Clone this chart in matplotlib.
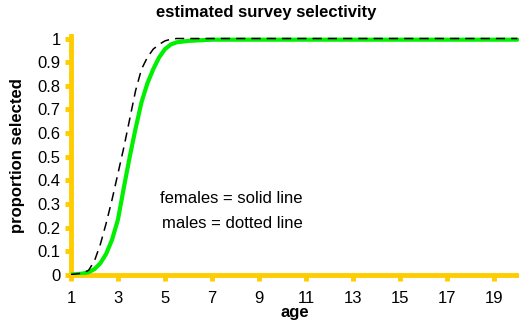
import numpy as np
import matplotlib
matplotlib.use('Agg')
from matplotlib import pyplot as plt

plt.rcParams['font.family'] = ['Liberation Sans', 'DejaVu Sans']

# ages: quarter-year steps through the rise, whole years after
age = [1, 1.5, 1.75, 2, 2.25, 2.5, 2.75, 3, 3.25, 3.5, 3.75, 4, 4.25, 4.5, 4.75, 5, 5.25, 5.5,
       6, 7, 8, 9, 10, 11, 12, 13, 14, 15, 16, 17, 18, 19, 20]
females = [0.002, 0.006, 0.012, 0.025, 0.05, 0.09, 0.15, 0.235, 0.37, 0.50, 0.62, 0.73, 0.81,
           0.87, 0.92, 0.955, 0.975, 0.984,
           0.99, 0.995, 0.995, 0.995, 0.995, 0.995, 0.995, 0.995, 0.995, 0.995, 0.995, 0.995,
           0.995, 0.995, 0.995]
males = [0.002, 0.008, 0.02, 0.06, 0.13, 0.22, 0.32, 0.43, 0.54, 0.66, 0.78, 0.87, 0.92,
         0.955, 0.975, 0.99, 0.997, 1.0,
         1.0, 1.0, 1.0, 1.0, 1.0, 1.0, 1.0, 1.0, 1.0, 1.0, 1.0, 1.0, 1.0, 1.0, 1.0]
xticks = list(range(1, 21, 2))
yticks = [0, 0.1, 0.2, 0.3, 0.4, 0.5, 0.6, 0.7, 0.8, 0.9, 1]
ytick_labels = ['0', '0.1', '0.2', '0.3', '0.4', '0.5', '0.6', '0.7', '0.8', '0.9', '1']

gold = '#FFCC00'

fig = plt.figure(figsize=(5.19, 3.25), dpi=100)
ax = fig.add_axes([0.1368, 0.1538, 0.8632, 0.735])

ax.plot(age, females, color='#00F000', lw=3.0, solid_capstyle='round',
        solid_joinstyle='round', zorder=2)
ax.plot(age, males, color='black', lw=1.1, dashes=(6, 4), zorder=3)

ax.set_xlim(1, 20.07)
ax.set_ylim(0, 1.01)
ax.set_xticks(xticks)
ax.set_yticks(yticks, ytick_labels)

for side in ['top', 'right']:
    ax.spines[side].set_visible(False)
for side in ['left', 'bottom']:
    ax.spines[side].set_color(gold)
    ax.spines[side].set_linewidth(3.5)
    ax.spines[side].set_zorder(1)

ax.tick_params(axis='both', colors=gold, length=4.5, width=3.5, labelsize=12,
               labelcolor='black', direction='out')
ax.tick_params(axis='x', pad=7)
ax.tick_params(axis='y', pad=3)

ax.text(7.83, 0.325, 'females = solid line', fontsize=12, ha='center', va='center')
ax.text(7.89, 0.219, 'males = dotted line', fontsize=12, ha='center', va='center')

fig.suptitle('estimated survey selectivity', x=0.513, y=0.985, fontsize=12,
             fontweight='bold', va='top')
ax.set_ylabel('proportion selected', fontsize=12, fontweight='bold', labelpad=9)
ax.set_xlabel('age', fontsize=12, fontweight='bold', labelpad=-1)

fig.savefig('out.png', dpi=100)
